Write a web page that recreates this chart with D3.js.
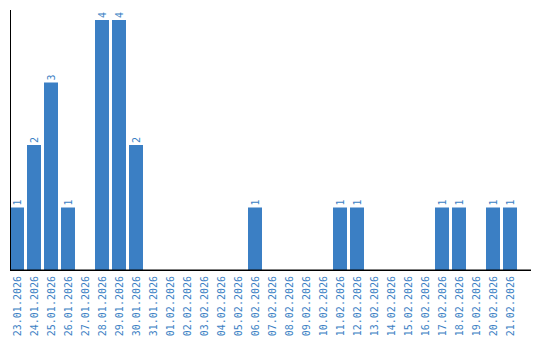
<!DOCTYPE html>
<html><head><meta charset="utf-8">
<script src="https://cdn.jsdelivr.net/npm/d3@7"></script>
<style>body{margin:0;background:#fff}svg{display:block}</style>
</head><body>
<script>
const categories = ["23.01.2026","24.01.2026","25.01.2026","26.01.2026","27.01.2026","28.01.2026","29.01.2026","30.01.2026","31.01.2026","01.02.2026","02.02.2026","03.02.2026","04.02.2026","05.02.2026","06.02.2026","07.02.2026","08.02.2026","09.02.2026","10.02.2026","11.02.2026","12.02.2026","13.02.2026","14.02.2026","15.02.2026","16.02.2026","17.02.2026","18.02.2026","19.02.2026","20.02.2026","21.02.2026"];
const values = [1,2,3,1,0,4,4,2,0,0,0,0,0,0,1,0,0,0,0,1,1,0,0,0,0,1,1,0,1,1];

const W = 540, H = 340;
const color = "#3b7fc4";
const svg = d3.select("body").append("svg").attr("width", W).attr("height", H);

const x = d3.scaleBand().domain(categories).range([10, 517]).paddingInner(3/17).paddingOuter(0);
const y = d3.scaleLinear().domain([0, 4]).range([270, 20]);

const data = categories.map((c, i) => ({c, v: values[i]}));

svg.selectAll("rect.bar").data(data.filter(d => d.v > 0)).enter().append("rect")
  .attr("class", "bar")
  .attr("x", d => x(d.c)).attr("width", x.bandwidth())
  .attr("y", d => y(d.v)).attr("height", d => y(0) - y(d.v))
  .attr("fill", color);

svg.selectAll("text.val").data(data.filter(d => d.v > 0)).enter().append("text")
  .attr("class", "val")
  .attr("transform", d => `translate(${x(d.c) + x.bandwidth()/2 + 3.5},${y(d.v) - 2}) rotate(-90)`)
  .attr("font-family", "DejaVu Sans Mono").attr("font-size", 10)
  .attr("fill", color)
  .text(d => d.v);

// axes lines
svg.append("line").attr("x1", 10.5).attr("x2", 10.5).attr("y1", 10).attr("y2", 271)
  .attr("stroke", "#000").attr("stroke-width", 1);
svg.append("line").attr("x1", 10).attr("x2", 531).attr("y1", 270.25).attr("y2", 270.25)
  .attr("stroke", "#000").attr("stroke-width", 1.5);

// x tick labels
const xAxis = d3.axisBottom(x).tickSize(0).tickPadding(0);
const gx = svg.append("g").attr("transform", "translate(0,270)").call(xAxis);
gx.select(".domain").remove();
gx.selectAll("text")
  .attr("font-family", "DejaVu Sans Mono").attr("font-size", 10)
  .attr("fill", color)
  .attr("text-anchor", "end")
  .attr("dy", null)
  .attr("y", 0)
  .attr("transform", "translate(3.5,6) rotate(-90)");
</script>
</body></html>
